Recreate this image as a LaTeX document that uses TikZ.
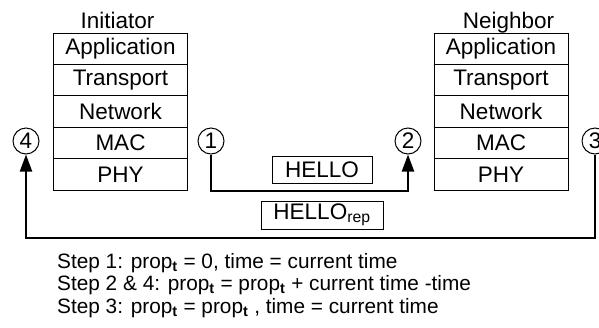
\documentclass[tikz,border=0pt]{standalone}
\usepackage{fontspec}
\setmainfont{Liberation Sans}
\usetikzlibrary{arrows.meta}
\begin{document}
\begin{tikzpicture}[x=1bp,y=-1bp,
  layer/.style={draw,line width=1bp,rectangle,minimum width=134bp,minimum height=31.4bp,
    inner sep=0pt,font=\fontsize{22.5bp}{26bp}\selectfont},
  title/.style={anchor=base,inner sep=0pt,font=\fontsize{22.5bp}{26bp}\selectfont},
  stepno/.style={draw,circle,line width=1bp,minimum size=26bp,inner sep=0pt,
    font=\fontsize{22.5bp}{26bp}\selectfont},
  msg/.style={draw,line width=1bp,rectangle,inner sep=0pt,font=\fontsize{22.5bp}{26bp}\selectfont},
  conn/.style={line width=2bp,-{Triangle[length=17bp,width=12bp]}},
  note/.style={anchor=base west,inner sep=0pt,font=\fontsize{20.8bp}{24bp}\selectfont}]
\useasboundingbox (0,0) rectangle (599,327);

% initiator protocol stack
\node[title] (ini) at (117.5,28) {Initiator};
\node[layer] (iapp) at (120.5,48.7) {Application};
\node[layer] (itra) at (120.5,80.1) {Transport};
\node[layer] (inet) at (120.5,111.5) {Network};
\node[layer] (imac) at (120.5,142.9) {MAC};
\node[layer] (iphy) at (120.5,174.3) {PHY};

% neighbor protocol stack
\node[title] (nei) at (508.5,28) {Neighbor};
\node[layer] (napp) at (501,48.7) {Application};
\node[layer] (ntra) at (501,80.1) {Transport};
\node[layer] (nnet) at (501,111.5) {Network};
\node[layer] (nmac) at (501,142.9) {MAC};
\node[layer] (nphy) at (501,174.3) {PHY};

% step markers
\node[stepno] (c4) at (26,141) {4};
\node[stepno] (c1) at (211,141) {1};
\node[stepno] (c2) at (408,141) {2};
\node[stepno] (c3) at (595,141) {3};

% messages
\node[msg,minimum width=100bp,minimum height=27bp] (hello) at (322,169.5) {HELLO};
\node[msg,minimum width=122bp,minimum height=28bp] (hrep) at (322,215) {HELLO\textsubscript{rep}};

\draw[conn] (c1.south) -- ++(0,36.5) -| (c2.south);
\draw[conn] (c3.south) -- ++(0,83) -| (c4.south);

% timing rules
\node[note] (s1) at (57,268) {Step 1: prop\textsubscript{\textbf{t}} = 0, time = current time};
\node[note] (s2) at (57,290.7) {Step 2 \& 4: prop\textsubscript{\textbf{t}} = prop\textsubscript{\textbf{t}} + current time -time};
\node[note] (s3) at (57,313.4) {Step 3: prop\textsubscript{\textbf{t}} = prop\textsubscript{\textbf{t}} , time = current time};
\end{tikzpicture}
\end{document}
